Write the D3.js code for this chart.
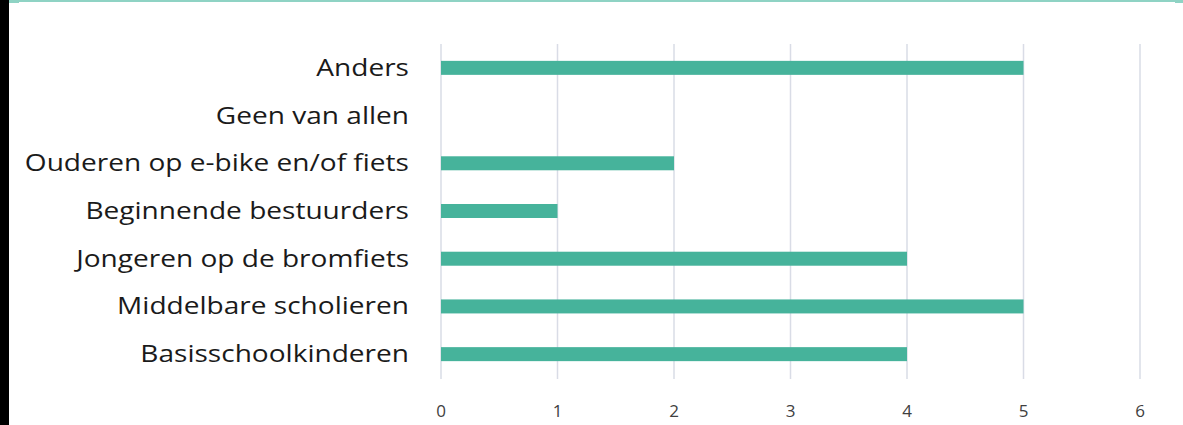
<!DOCTYPE html>
<html>
<head>
<meta charset="utf-8">
<script src="https://cdn.jsdelivr.net/npm/d3@7"></script>
<style>
  html, body { margin: 0; padding: 0; background: #fff; }
  svg { display: block; }
</style>
</head>
<body>
<script>
// categories top to bottom
var categories = ["Anders", "Geen van allen", "Ouderen op e-bike en/of fiets",
  "Beginnende bestuurders", "Jongeren op de bromfiets", "Middelbare scholieren", "Basisschoolkinderen"];
var values = [5, 0, 2, 1, 4, 5, 4];
var ticks = [0, 1, 2, 3, 4, 5, 6];

var width = 1183, height = 425;

var svg = d3.select("body").append("svg")
    .attr("width", width)
    .attr("height", height);

// frame bits around the picture
svg.append("rect").attr("x", 0).attr("y", 0).attr("width", 9).attr("height", height).attr("fill", "#000");
svg.append("rect").attr("x", 9).attr("y", 0).attr("width", width - 9).attr("height", 2).attr("fill", "#8fd3c4");
svg.append("rect").attr("x", 9).attr("y", 0).attr("width", 10).attr("height", 3).attr("fill", "#8fd3c4");
svg.append("rect").attr("x", 1175).attr("y", 0).attr("width", 8).attr("height", 3).attr("fill", "#8fd3c4");

var x = d3.scaleLinear().domain([0, 6]).range([441, 1140]);
var y = d3.scaleBand().domain(categories).range([44, 378]).paddingInner(0.7).paddingOuter(0.35);

// gridlines
svg.append("g").selectAll("line")
  .data(ticks)
  .join("line")
    .attr("x1", function(d) { return x(d); })
    .attr("x2", function(d) { return x(d); })
    .attr("y1", 44)
    .attr("y2", 379)
    .attr("stroke", "#d9dce6")
    .attr("stroke-width", 1.5);

// bars
svg.append("g").selectAll("rect")
  .data(values)
  .join("rect")
    .attr("x", x(0))
    .attr("y", function(d, i) { return y(categories[i]) + y.bandwidth() / 2 - 7; })
    .attr("width", function(d) { return x(d) - x(0); })
    .attr("height", 14)
    .attr("fill", "#46b39b");

// category labels (the original font runs wide, so stretch a bit)
svg.append("g").selectAll("text")
  .data(categories)
  .join("text")
    .attr("transform", function(d) { return "translate(409," + (y(d) + y.bandwidth() / 2) + ") scale(1.22,1)"; })
    .attr("dy", "0.35em")
    .attr("text-anchor", "end")
    .attr("font-family", "'Open Sans', sans-serif")
    .attr("font-size", 23)
    .attr("fill", "#1a1a1a")
    .text(function(d) { return d; });

// tick labels
svg.append("g").selectAll("text")
  .data(ticks)
  .join("text")
    .attr("x", function(d) { return x(d); })
    .attr("y", 411)
    .attr("dy", "0.35em")
    .attr("text-anchor", "middle")
    .attr("font-family", "'Open Sans', sans-serif")
    .attr("font-size", 17)
    .attr("fill", "#404040")
    .text(function(d) { return d; });
</script>
</body>
</html>
